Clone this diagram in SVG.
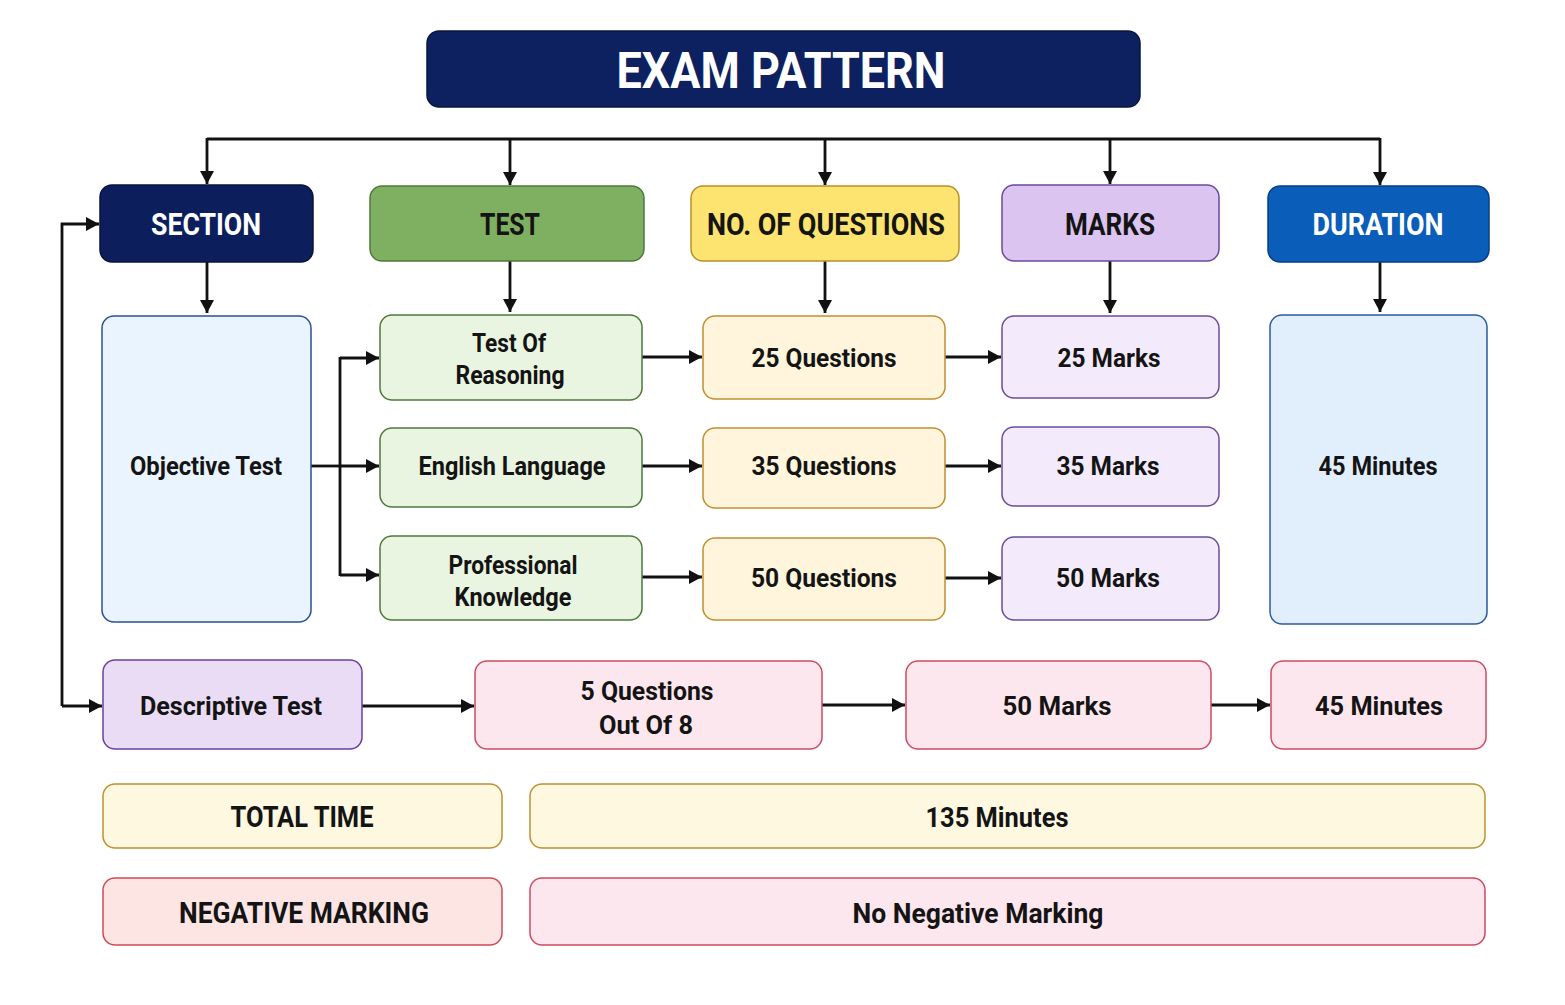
<svg xmlns="http://www.w3.org/2000/svg" width="1565" height="1005" viewBox="0 0 1565 1005">
<defs>
<marker id="ah" markerUnits="userSpaceOnUse" markerWidth="14" markerHeight="16" refX="13" refY="8" orient="auto">
<path d="M0,1 L13,8 L0,15 Z" fill="#111"/>
</marker>
<style>
.t{font-family:Roboto,"Liberation Sans",sans-serif;font-weight:700;text-anchor:middle;fill:#141414}
.w{fill:#ffffff}
.h{font-size:31px}
.b{font-size:26px}
.c{stroke:#111;stroke-width:2.8;fill:none}
.a{marker-end:url(#ah)}
</style>
</defs>
<rect width="1565" height="1005" fill="#ffffff"/>

<g id="title">
<rect x="427" y="31" width="713" height="76" rx="12" fill="#0d2160" stroke="#0a163f" stroke-width="1.5"/>
<text class="t w" x="781" y="88" font-size="50" textLength="329" lengthAdjust="spacingAndGlyphs">EXAM PATTERN</text>
</g>

<g id="connectors">
<path class="c" d="M207,139 H1380"/>
<path class="c a" d="M207,138 V184"/>
<path class="c a" d="M510,138 V185"/>
<path class="c a" d="M825,138 V185"/>
<path class="c a" d="M1110,138 V184"/>
<path class="c a" d="M1380,138 V185"/>
<path class="c a" d="M207,262 V313"/>
<path class="c a" d="M510,261 V312"/>
<path class="c a" d="M825,261 V313"/>
<path class="c a" d="M1110,261 V313"/>
<path class="c a" d="M1380,262 V312"/>
<path class="c" d="M311,466 H340"/>
<path class="c a" d="M340,358 H379"/>
<path class="c a" d="M340,466 H379"/>
<path class="c a" d="M340,575 H379"/>
<path class="c" d="M340,357 V576"/>
<path class="c a" d="M642,357 H702"/>
<path class="c a" d="M642,466 H702"/>
<path class="c a" d="M642,577 H702"/>
<path class="c a" d="M945,357 H1001"/>
<path class="c a" d="M945,466 H1001"/>
<path class="c a" d="M945,578 H1001"/>
<path class="c a" d="M62,706 V224 H99"/>
<path class="c a" d="M62,706 H102"/>
<path class="c a" d="M362,706 H474"/>
<path class="c a" d="M822,705 H905"/>
<path class="c a" d="M1211,705 H1270"/>
</g>

<g id="section">
<rect x="100" y="185" width="213" height="77" rx="12" fill="#0c1f5c" stroke="#08143c" stroke-width="1.5"/>
<text class="t w h" x="206" y="235" textLength="110" lengthAdjust="spacingAndGlyphs">SECTION</text>
</g>
<g id="test">
<rect x="370" y="186" width="274" height="75" rx="12" fill="#7fb062" stroke="#4d7a3a" stroke-width="1.5"/>
<text class="t h" x="510" y="235" textLength="60" lengthAdjust="spacingAndGlyphs">TEST</text>
</g>
<g id="noq">
<rect x="691" y="186" width="268" height="75" rx="12" fill="#fde36f" stroke="#b8902a" stroke-width="1.5"/>
<text class="t h" x="826" y="235" textLength="238" lengthAdjust="spacingAndGlyphs">NO. OF QUESTIONS</text>
</g>
<g id="marks">
<rect x="1002" y="185" width="217" height="76" rx="12" fill="#dcc4f0" stroke="#6a4a9a" stroke-width="1.5"/>
<text class="t h" x="1110" y="235" textLength="90" lengthAdjust="spacingAndGlyphs">MARKS</text>
</g>
<g id="duration">
<rect x="1268" y="186" width="221" height="76" rx="12" fill="#0a5db8" stroke="#083e82" stroke-width="1.5"/>
<text class="t w h" x="1378" y="235" textLength="131" lengthAdjust="spacingAndGlyphs">DURATION</text>
</g>

<g id="objective">
<rect x="102" y="316" width="209" height="306" rx="12" fill="#eaf4fe" stroke="#2c5090" stroke-width="1.5"/>
<text class="t b" x="206" y="475" textLength="152" lengthAdjust="spacingAndGlyphs">Objective Test</text>
</g>

<g id="reasoning">
<rect x="380" y="315" width="262" height="85" rx="12" fill="#eaf5e1" stroke="#4d7a3a" stroke-width="1.5"/>
<text class="t b" x="509" y="352" textLength="74" lengthAdjust="spacingAndGlyphs">Test Of</text>
<text class="t b" x="510" y="384" textLength="109" lengthAdjust="spacingAndGlyphs">Reasoning</text>
</g>
<g id="english">
<rect x="380" y="428" width="262" height="79" rx="12" fill="#eaf5e1" stroke="#4d7a3a" stroke-width="1.5"/>
<text class="t b" x="512" y="475" textLength="187" lengthAdjust="spacingAndGlyphs">English Language</text>
</g>
<g id="professional">
<rect x="380" y="536" width="262" height="84" rx="12" fill="#eaf5e1" stroke="#4d7a3a" stroke-width="1.5"/>
<text class="t b" x="513" y="574" textLength="129" lengthAdjust="spacingAndGlyphs">Professional</text>
<text class="t b" x="513" y="606" textLength="117" lengthAdjust="spacingAndGlyphs">Knowledge</text>
</g>

<g id="q25">
<rect x="703" y="316" width="242" height="83" rx="12" fill="#fef5dc" stroke="#c0902e" stroke-width="1.5"/>
<text class="t b" x="824" y="367" textLength="145" lengthAdjust="spacingAndGlyphs">25 Questions</text>
</g>
<g id="q35">
<rect x="703" y="428" width="242" height="80" rx="12" fill="#fef5dc" stroke="#c0902e" stroke-width="1.5"/>
<text class="t b" x="824" y="475" textLength="145" lengthAdjust="spacingAndGlyphs">35 Questions</text>
</g>
<g id="q50">
<rect x="703" y="538" width="242" height="82" rx="12" fill="#fef5dc" stroke="#c0902e" stroke-width="1.5"/>
<text class="t b" x="824" y="587" textLength="146" lengthAdjust="spacingAndGlyphs">50 Questions</text>
</g>

<g id="m25">
<rect x="1002" y="316" width="217" height="82" rx="12" fill="#f3ebfb" stroke="#6b4c9c" stroke-width="1.5"/>
<text class="t b" x="1109" y="367" textLength="103" lengthAdjust="spacingAndGlyphs">25 Marks</text>
</g>
<g id="m35">
<rect x="1002" y="427" width="217" height="79" rx="12" fill="#f3ebfb" stroke="#6b4c9c" stroke-width="1.5"/>
<text class="t b" x="1108" y="475" textLength="103" lengthAdjust="spacingAndGlyphs">35 Marks</text>
</g>
<g id="m50">
<rect x="1002" y="537" width="217" height="83" rx="12" fill="#f3ebfb" stroke="#6b4c9c" stroke-width="1.5"/>
<text class="t b" x="1108" y="587" textLength="104" lengthAdjust="spacingAndGlyphs">50 Marks</text>
</g>

<g id="min45">
<rect x="1270" y="315" width="217" height="309" rx="12" fill="#e1effd" stroke="#2c5aa0" stroke-width="1.5"/>
<text class="t b" x="1378" y="475" textLength="119" lengthAdjust="spacingAndGlyphs">45 Minutes</text>
</g>

<g id="descriptive">
<rect x="103" y="660" width="259" height="89" rx="12" fill="#ebdcf6" stroke="#6a40a0" stroke-width="1.5"/>
<text class="t b" x="231" y="715" textLength="182" lengthAdjust="spacingAndGlyphs">Descriptive Test</text>
</g>
<g id="q5">
<rect x="475" y="661" width="347" height="88" rx="12" fill="#fde7ee" stroke="#d04a62" stroke-width="1.5"/>
<text class="t b" x="647" y="700" textLength="133" lengthAdjust="spacingAndGlyphs">5 Questions</text>
<text class="t b" x="646" y="734" textLength="94" lengthAdjust="spacingAndGlyphs">Out Of 8</text>
</g>
<g id="dmarks">
<rect x="906" y="661" width="305" height="88" rx="12" fill="#fde7ee" stroke="#d04a62" stroke-width="1.5"/>
<text class="t b" x="1057" y="715" textLength="109" lengthAdjust="spacingAndGlyphs">50 Marks</text>
</g>
<g id="dmin">
<rect x="1271" y="661" width="215" height="88" rx="12" fill="#fde7ee" stroke="#d04a62" stroke-width="1.5"/>
<text class="t b" x="1379" y="715" textLength="128" lengthAdjust="spacingAndGlyphs">45 Minutes</text>
</g>

<g id="totaltime">
<rect x="103" y="784" width="399" height="64" rx="12" fill="#fef8e1" stroke="#c0902e" stroke-width="1.5"/>
<text class="t" x="302" y="827" font-size="29" textLength="143" lengthAdjust="spacingAndGlyphs">TOTAL TIME</text>
</g>
<g id="total135">
<rect x="530" y="784" width="955" height="64" rx="12" fill="#fef8e1" stroke="#c0902e" stroke-width="1.5"/>
<text class="t" x="997" y="827" font-size="28" textLength="143" lengthAdjust="spacingAndGlyphs">135 Minutes</text>
</g>
<g id="negative">
<rect x="103" y="878" width="399" height="67" rx="12" fill="#fde5e4" stroke="#d04a55" stroke-width="1.5"/>
<text class="t" x="304" y="923" font-size="29" textLength="250" lengthAdjust="spacingAndGlyphs">NEGATIVE MARKING</text>
</g>
<g id="noneg">
<rect x="530" y="878" width="955" height="67" rx="12" fill="#fde7ee" stroke="#d04a62" stroke-width="1.5"/>
<text class="t" x="978" y="923" font-size="28" textLength="251" lengthAdjust="spacingAndGlyphs">No Negative Marking</text>
</g>
</svg>
